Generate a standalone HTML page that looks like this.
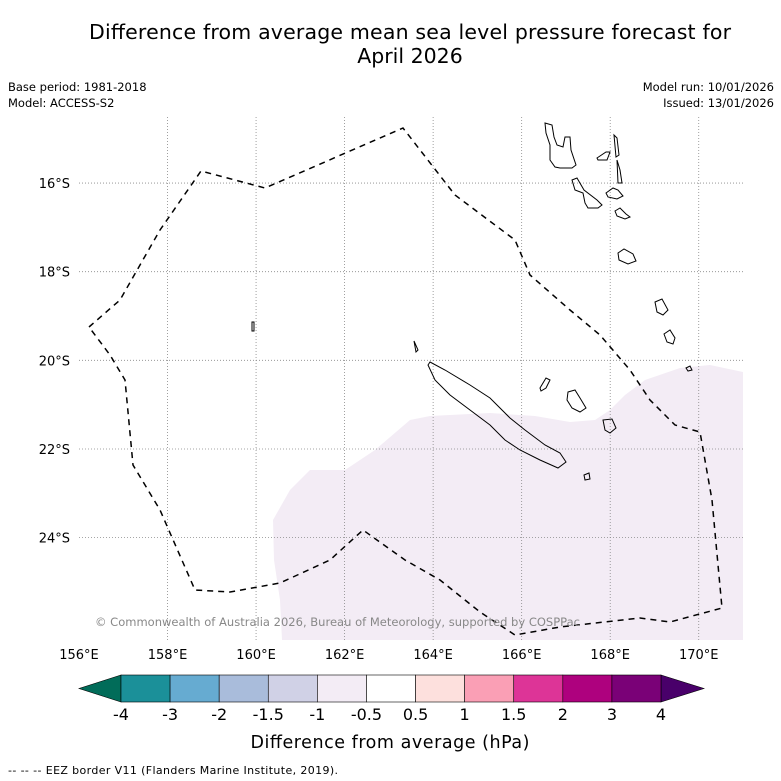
<!DOCTYPE html>
<html><head><meta charset="utf-8"><style>
html,body{margin:0;padding:0;background:#fff}
svg{display:block;font-family:"DejaVu Sans","Liberation Sans",sans-serif}
</style></head><body>
<svg id="chart" width="781" height="781" viewBox="0 0 781 781">
<text x="410" y="39" font-size="20.5" text-anchor="middle" textLength="642">Difference from average mean sea level pressure forecast for</text>
<text x="410" y="63" font-size="20.5" text-anchor="middle">April 2026</text>
<text x="8" y="91" font-size="11.5">Base period: 1981-2018</text>
<text x="8" y="107" font-size="11.5">Model: ACCESS-S2</text>
<text x="774" y="91" font-size="11.5" text-anchor="end">Model run: 10/01/2026</text>
<text x="774" y="107" font-size="11.5" text-anchor="end">Issued: 13/01/2026</text>

<g id="map">
<polygon fill="#f3ecf5" points="282,640 280,600 274,560 273,520 290,490 310,470 345,470 375,450 410,420 430,416 490,413 535,416 570,422 595,420 610,410 625,395 645,380 680,368 710,365 743,372 743,640"/>
<g id="grid" stroke="#888" stroke-width="0.8" stroke-dasharray="1,2" fill="none"></g>
<g id="coast" fill="none" stroke="#000" stroke-width="1">
<path d="M545,123 L552,125 554,137 557,145 563,147 565,137 570,137 571,150 576,165 572,168 560,168 555,167 550,160 550,145 546,133Z"/>
<path d="M572,180 L577,178 584,190 597,200 602,205 598,208 588,208 585,203 583,193 575,190Z"/>
<path d="M597,158 L606,152 610,152 607,160 598,160Z"/>
<path d="M614,135 L617,138 619,155 616,157Z"/>
<path d="M617,160 L620,170 622,183 618,183Z"/>
<path d="M606,193 L613,188 618,190 623,196 617,199 608,197Z"/>
<path d="M615,211 L620,208 626,214 630,217 625,219 617,216Z"/>
<path d="M618,253 L624,249 633,254 636,261 628,264 619,260Z"/>
<path d="M655,302 L662,299 668,310 663,315 657,312Z"/>
<path d="M664,334 L670,330 675,338 673,344 667,342Z"/>
<path d="M686,368 L690,366 692,370 688,371Z"/>
<path d="M430,362 L445,370 470,385 490,398 510,418 525,430 545,445 560,453 566,462 558,468 540,460 520,450 505,440 490,425 470,410 450,395 435,380 428,365Z"/>
<path d="M414,341 L418,350 416,352Z"/>
<path d="M540,388 L546,378 550,380 546,388 541,391Z"/>
<path d="M568,392 L575,390 580,398 586,408 580,412 572,408 567,400Z"/>
<path d="M603,420 L612,419 616,428 610,433 605,430Z"/>
<path d="M584,475 L589,473 590,479 585,480Z"/>
<path d="M252,322 L254,322 254,331 252,331Z"/>
</g>
<path id="eez" fill="none" stroke="#000" stroke-width="1.5" stroke-dasharray="6,5" d="M89,327 L120,300 160,230 201,171 265,188 403,128 455,195 515,240 530,275 570,310 600,335 630,370 650,400 675,425 700,432 712,500 722,608 670,622 640,618 560,627 515,635 480,612 440,580 405,560 363,530 330,560 280,583 230,592 195,590 160,510 133,465 125,380 110,355 89,327"/>
<text x="95" y="626" font-size="11.5" fill="#888" textLength="485">© Commonwealth of Australia 2026, Bureau of Meteorology, supported by COSPPac</text>
<g id="axes" font-size="13"></g>
</g>

<g id="colorbar"></g>
<text x="390" y="748" font-size="17.5" text-anchor="middle" textLength="279">Difference from average (hPa)</text>
<text x="8" y="774" font-size="11" textLength="330">--  --  -- EEZ border V11 (Flanders Marine Institute, 2019).</text>
</svg>
<script>
const lonTicks=[156,158,160,162,164,166,168,170];
const latTicks=[16,18,20,22,24];
const cbLevels=["-4","-3","-2","-1.5","-1","-0.5","0.5","1","1.5","2","3","4"];
const cbColors=["#1b9099","#66abd1","#a9bcdb","#d0d1e6","#f3ecf5","#ffffff","#fde0dd","#fa9fb5","#dd3497","#ae017e","#7a0177"];
const cbLow="#016c59", cbHigh="#49006a";
const NS="http://www.w3.org/2000/svg";
const x0=79,x1=743,y0=117,y1=640,lonMin=156,lonMax=171,latMin=14.51,latMax=26.31;
const X=l=>x0+(l-lonMin)/(lonMax-lonMin)*(x1-x0);
const Y=l=>y0+(l-latMin)/(latMax-latMin)*(y1-y0);
function mk(t,a,p){const e=document.createElementNS(NS,t);for(const k in a)e.setAttribute(k,a[k]);p.appendChild(e);return e;}
const grid=document.getElementById('grid'),axes=document.getElementById('axes');
lonTicks.forEach(l=>{
 if(l>lonMin){const g=mk('line',{x1:X(l),x2:X(l),y1:y0,y2:y1},grid);
 
 }
 const t=mk('text',{x:X(l),y:659,'text-anchor':'middle'},axes);t.textContent=l+'°E';
 
 
});
latTicks.forEach(l=>{
 const g=mk('line',{x1:x0,x2:x1,y1:Y(l),y2:Y(l)},grid);
 
 
 const t=mk('text',{x:70,y:Y(l)+5,'text-anchor':'end'},axes);t.textContent=l+'°S';
 
 
});
const cb=document.getElementById('colorbar');
const cx0=121,cx1=661,cy0=675,cy1=702,n=cbColors.length,w=(cx1-cx0)/n;
let tri=mk('polygon',{points:`${cx0},${cy0} 79,${(cy0+cy1)/2} ${cx0},${cy1}`,fill:cbLow,stroke:'#000','stroke-width':0.6},cb);


tri=mk('polygon',{points:`${cx1},${cy0} 704,${(cy0+cy1)/2} ${cx1},${cy1}`,fill:cbHigh,stroke:'#000','stroke-width':0.6},cb);


cbColors.forEach((c,i)=>{const r=mk('rect',{x:cx0+i*w,y:cy0,width:w,height:cy1-cy0,fill:c,stroke:'#000','stroke-width':0.6},cb);
 
 });
cbLevels.forEach((v,i)=>{const t=mk('text',{x:cx0+i*w,y:720,'text-anchor':'middle','font-size':16},cb);t.textContent=v;
 
 });
</script>
</body></html>
